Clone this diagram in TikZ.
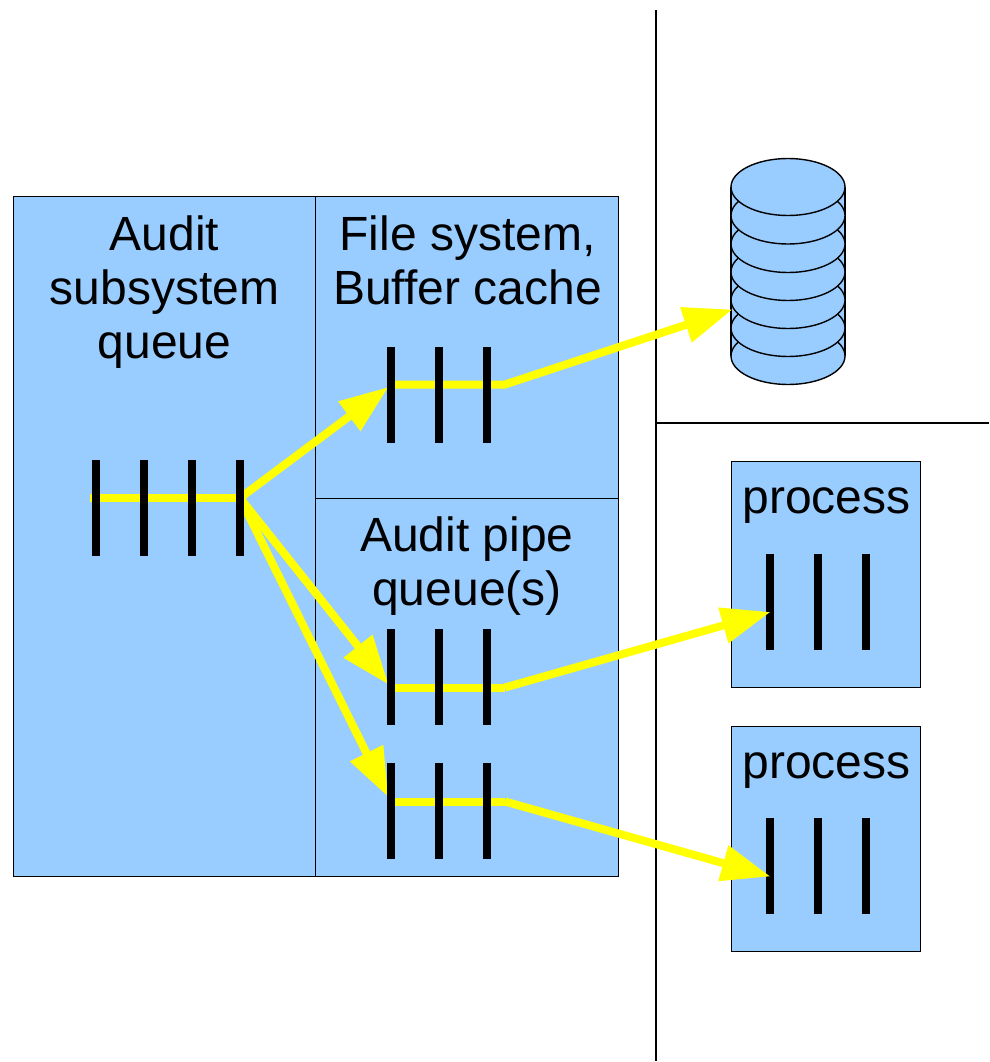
\documentclass[tikz,border=0pt]{standalone}
\usepackage{fontspec}
\setmainfont{Liberation Sans}
\usetikzlibrary{arrows.meta}
\definecolor{panelblue}{RGB}{153,204,255}
\definecolor{flowyellow}{RGB}{255,255,0}
\tikzset{
  panel/.style={draw=black,fill=panelblue,line width=1.4pt,inner sep=0pt,anchor=north west},
  qbar/.style={fill=black,draw=none,inner sep=0pt,minimum width=8pt,minimum height=96pt},
  lbl/.style={align=center,inner sep=0pt,font=\fontsize{48}{54}\selectfont},
  divider/.style={draw=black,line width=1.4pt},
  flow/.style={draw=flowyellow,line width=8pt,line join=miter},
  flowarrow/.style={flow,-{Triangle[length=49pt,width=35pt,fill=flowyellow]}},
  disc/.style={draw=black,fill=panelblue,line width=1.4pt},
}
\begin{document}
\begin{tikzpicture}[x=1pt,y=-1pt]
\useasboundingbox (0,0) rectangle (989,1062);
\fill[white] (0,0) rectangle (989,1062);
% dividers
\coordinate (vt) at (656,10); \coordinate (vb) at (656,1061);
\coordinate (hl) at (656,423); \coordinate (hr) at (989,423);
\draw[divider] (vt) -- (vb);
\draw[divider] (hl) -- (hr);
% panels
\node[panel,minimum width=302pt,minimum height=680pt] (audit) at (13,196) {};
\node[panel,minimum width=302.5pt,minimum height=302pt] (fs) at (315,196) {};
\node[panel,minimum width=302.5pt,minimum height=378pt] (pipe) at (315,498) {};
\node[panel,minimum width=189pt,minimum height=226pt] (p1) at (731,461) {};
\node[panel,minimum width=189pt,minimum height=225pt] (p2) at (731,726) {};
% disk
\node[inner sep=0pt,minimum width=114pt,minimum height=227pt] (disk) at (788,271.5) {};
\fill[panelblue] (731,187) rectangle (845,356);
\draw[disc] (731,187) -- (731,356);
\draw[disc] (845,187) -- (845,356);
\foreach \cy in {356,328,300,272,244,215.5,187}
  \draw[disc] (788,\cy) ellipse [x radius=57pt,y radius=28.5pt];
% labels
\node[lbl] (auditlbl) at (164.5,292.5) {Audit\\subsystem\\queue};
\node[lbl] (fslbl) at (467.5,260.5) {File system,\\Buffer cache};
\node[lbl] (pipelbl) at (467,566) {Audit pipe\\queue(s)};
\node[lbl] (p1lbl) at (826.5,506) {process};
\node[lbl] (p2lbl) at (826.5,771) {process};
% anchor points of connectors
\coordinate (aT) at (90,498); \coordinate (aF) at (240,498);
\coordinate (fsIn) at (388.5,387); \coordinate (fsA) at (395,384.5); \coordinate (fsB) at (505,384.5);
\coordinate (diskIn) at (732.5,309.5);
\coordinate (p1In) at (388.5,684.5); \coordinate (p1A) at (395,687.5); \coordinate (p1B) at (505,687.5);
\coordinate (proc1In) at (770.5,612);
\coordinate (p2In) at (388.3,797); \coordinate (p2A) at (395,801.5); \coordinate (p2B) at (505,801.5);
\coordinate (proc2In) at (770.5,876.5);
% flows into the kernel queues
\draw[flow] (aT) -- (aF);
\draw[flowarrow] (aF) -- (fsIn);
\draw[flowarrow] (aF) -- (p1In);
\draw[flowarrow] (aF) -- (p2In);
\draw[flowarrow] (fsA) -- (fsB) -- (diskIn);
% bars
\foreach \n/\x in {1/96,2/144,3/192,4/240} \node[qbar] (a\n) at (\x,508) {};
\foreach \n/\x in {1/391,2/439,3/487} {
  \node[qbar] (f\n) at (\x,395) {};
}
\draw[flow] (p1A) -- (p1B);
\draw[flow] (p2A) -- (p2B);
\foreach \n/\x in {1/391,2/439,3/487} {
  \node[qbar] (q\n) at (\x,677) {};
  \node[qbar] (r\n) at (\x,811) {};
}
\foreach \n/\x in {1/769.5,2/817.5,3/865.5} {
  \node[qbar] (u\n) at (\x,601.5) {};
  \node[qbar] (v\n) at (\x,866) {};
}
% flows into the processes, drawn over their bars
\draw[flowarrow] (p1B) -- (proc1In);
\draw[flowarrow] (p2B) -- (proc2In);
\end{tikzpicture}
\end{document}
